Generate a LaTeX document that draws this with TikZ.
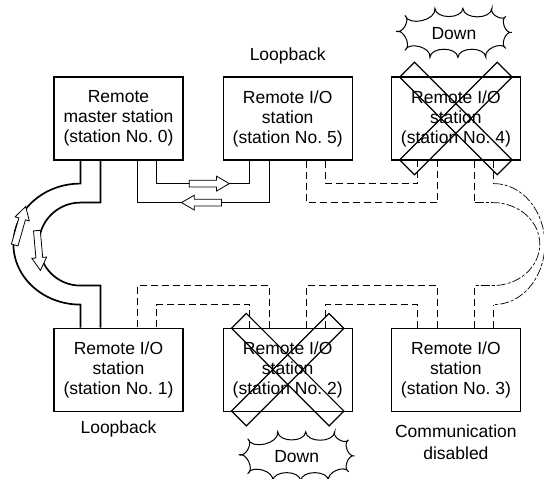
\documentclass[tikz,border=0pt]{standalone}
\usepackage{fontspec}
\setmainfont{Liberation Sans}
\usetikzlibrary{positioning, calc, shapes.arrows}

\begin{document}
\begin{tikzpicture}[x=1pt, y=1pt, font=\fontsize{17.5}{20}\selectfont, node distance=38pt]
  \tikzstyle{station}=[draw, line width=1.2pt, minimum width=129pt, minimum height=83pt, align=center, inner sep=0pt]
  \tikzstyle{cable}=[line width=1.7pt]
  \tikzstyle{cableD}=[line width=1pt, dash pattern=on 7pt off 4pt]
  \tikzstyle{cableR}=[line width=0.7pt, dash pattern=on 9pt off 2pt on 3pt off 2pt]
  \tikzstyle{flow}=[draw, fill=white, single arrow, line width=0.8pt, inner sep=3pt, minimum height=40pt, single arrow head extend=4pt, single arrow tip angle=60]
  \tikzstyle{xbar}=[draw, line width=1.2pt, minimum width=138pt, minimum height=21pt, inner sep=0pt]

  \useasboundingbox (0,0) rectangle (544,479);

  % Stations
  \node[station] (m0) at (118.5,360.5) {Remote\\master station\\(station No.~0)};
  \node[station, right=39pt of m0] (s5) {Remote I/O\\station\\(station No.~5)};
  \node[station, right=of s5] (s4) {Remote I/O\\station\\(station No.~4)};
  \node[station, below=167pt of m0] (s1) {Remote I/O\\station\\(station No.~1)};
  \node[station, below=167pt of s5] (s2) {Remote I/O\\station\\(station No.~2)};
  \node[station, below=167pt of s4] (s3) {Remote I/O\\station\\(station No.~3)};

  % Ports
  \foreach \b in {m0,s5,s4} {
    \foreach \o [count=\i] in {27,47,84,103}
      \coordinate (\b-\i) at ($(\b.south west)+(\o,0)$);
  }
  \foreach \b in {s1,s2,s3} {
    \foreach \o [count=\i] in {27,47,84,103}
      \coordinate (\b-\i) at ($(\b.north west)+(\o,0)$);
  }

  % Cable levels
  \coordinate (hiA) at ($(m0.south)+(0,-23)$);
  \coordinate (loA) at ($(m0.south)+(0,-42)$);
  \coordinate (hiB) at ($(s1.north)+(0,42)$);
  \coordinate (loB) at ($(s1.north)+(0,23)$);

  % Loopback path
  \draw[cable] (m0-4) |- (s5-1 |- hiA) -- (s5-1);
  \draw[cable] (m0-3) |- (s5-2 |- loA) -- (s5-2);
  \draw[cable] (m0-1) -- (m0-1 |- hiA) arc[start angle=90, end angle=270, x radius=67, y radius=60.5] -- (s1-1);
  \draw[cable] (m0-2) -- (m0-2 |- loA) -- ++(-20,0) arc[start angle=90, end angle=270, radius=41.5] -- (s1-2 |- hiB) -- (s1-2);

  % Dead lines
  \draw[cableD] (s5-4) |- (s4-1 |- hiA) -- (s4-1);
  \draw[cableD] (s5-3) |- (s4-2 |- loA) -- (s4-2);
  \draw[cableD] (s3-2) |- (s2-3 |- hiB) -- (s2-3);
  \draw[cableD] (s3-1) |- (s2-4 |- loB) -- (s2-4);
  \draw[cableD] (s2-2) |- (s1-3 |- hiB) -- (s1-3);
  \draw[cableD] (s2-1) |- (s1-4 |- loB) -- (s1-4);
  \draw[cableD] (s4-3) -- (s4-3 |- loA);
  \draw[cableD] (s4-4) -- (s4-4 |- hiA);
  \draw[cableD] (s3-3) -- (s3-3 |- hiB);
  \draw[cableD] (s3-4) -- (s3-4 |- loB);
  \draw[cableR] (s4-3 |- loA) -- ++(18,0) arc[start angle=90, end angle=-90, x radius=47, y radius=41.5] -- (s3-3 |- hiB);
  \draw[cableR] (s4-4 |- hiA) arc[start angle=90, end angle=-90, x radius=51, y radius=60.5];

  % Data flow
  \node[flow] (fw) at ($(m0-4 |- hiA)+(50,0)$) {};
  \node[flow, rotate=180] (bk) at ($(m0-3 |- loA)+(67,0)$) {};
  \node[flow, rotate=74] (lpUp) at ($(m0-1 |- hiA)+(-61,-45)$) {};
  \node[flow, rotate=-85] (lpDn) at ($(m0-2 |- loA)+(-62,-45)$) {};

  % Crossed-out stations
  \foreach \b in {s4,s2} {
    \node[xbar, rotate=45] (\b-xa) at (\b) {};
    \node[xbar, rotate=-45] (\b-xb) at (\b) {};
  }

  % Down clouds
  \coordinate (dn4) at ($(s4.north)+(-2,43)$);
  \coordinate (dn2) at ($(s2.south)+(9,-45)$);
  \foreach \c in {dn4,dn2} {
    \draw[line width=1pt] ($(\c)+(58,1)$)
      \foreach \x/\y in {52/17,38/25,9/25,-19/25,-49/18,-58/2,-49/-17,-24/-24,4/-24,32/-24,52/-15,58/1} { to[bend left=85] ($(\c)+(\x,\y)$) };
    \node (\c-txt) at (\c) {Down};
  }

  % Labels
  \node (lb5) at ($(s5.north)+(0,20)$) {Loopback};
  \node (lb1) at ($(s1.south)+(0,-17.5)$) {Loopback};
  \node[align=center, font=\fontsize{17.5}{22}\selectfont] (cd3) at ($(s3.south)+(0,-30.5)$) {Communication\\disabled};
\end{tikzpicture}
\end{document}
